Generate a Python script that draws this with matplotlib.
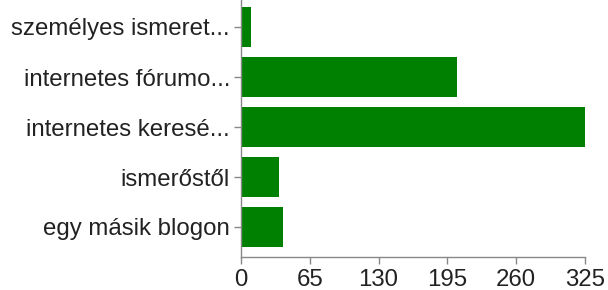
import matplotlib
matplotlib.use("Agg")
import matplotlib.pyplot as plt

categories = ["személyes ismeret...", "internetes fórumo...", "internetes keresé...", "ismerőstől", "egy másik blogon"]
values = [9, 204, 325, 36, 40]
xticks = [0, 65, 130, 195, 260, 325]

plt.rcParams['font.family'] = ['Liberation Sans', 'DejaVu Sans']

fig = plt.figure(figsize=(6.08, 2.90), dpi=100)
ax = fig.add_axes([241/608, (290-257)/290, 344/608, 257/290])
pos = list(range(len(categories)))
ax.barh(pos, values, height=0.8, color='#008000')
ax.set_xlim(0, 325)
ax.set_ylim(4.6, -0.54)
ax.set_yticks(pos)
ax.set_yticklabels(categories)
ax.set_xticks(xticks)
ax.set_xticklabels([str(t) for t in xticks])
for s in ['top', 'right']:
    ax.spines[s].set_visible(False)
for s in ['left', 'bottom']:
    ax.spines[s].set_color('#888888')
    ax.spines[s].set_linewidth(1)
ax.tick_params(axis='both', colors='#888888', labelcolor='#222222', labelsize=17.3, length=5, width=1)
ax.tick_params(axis='y', pad=3)
ax.tick_params(axis='x', pad=4)
fig.savefig("out.png", dpi=100)
